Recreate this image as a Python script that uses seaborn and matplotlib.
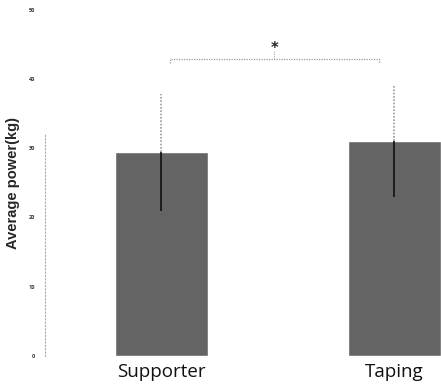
import pandas as pd
import seaborn as sns
import matplotlib.pyplot as plt

# values
groups = ["Supporter", "Taping"]
means = [29.4, 31.0]
sds = [8.4, 8.0]
yticks = [0, 10, 20, 30, 40, 50]

df = pd.DataFrame({"group": groups, "power": means})

sns.set_style("white")
plt.rcParams['font.family'] = ['Open Sans', 'DejaVu Sans']

fig = plt.figure(figsize=(4.41, 3.92), dpi=100)
ax = fig.add_axes([0.102, 0.092, 0.898, 0.883])

sns.barplot(data=df, x="group", y="power", color="#646464", saturation=1,
            width=0.4, ax=ax, errorbar=None)

# error bars: dotted gray above the bar, black inside it
xs = list(range(len(groups)))
ax.vlines(xs, means, [m + s for m, s in zip(means, sds)],
          colors="#9a9a9a", linestyles=(0, (1, 1)), linewidth=1.2)
ax.vlines(xs, [m - s for m, s in zip(means, sds)], means,
          colors="#111111", linewidth=1.2)

# significance bracket
ax.plot([0.035, 0.035, 0.933, 0.933], [42.3, 42.9, 42.9, 42.3],
        color="#9a9a9a", linestyle=(0, (1, 1)), linewidth=0.9)
ax.vlines(0.484, 42.9, 44.0, colors="#aaaaaa", linestyles=(0, (1, 1)),
          linewidth=0.8)
ax.text(0.484, 43.7, "*", ha="center", va="baseline", fontsize=10.5,
        fontweight="bold", color="#222222", family="DejaVu Sans")

ax.set_xlim(-0.5, 1.2)
ax.set_ylim(0, 50)
ax.set_yticks(yticks)
ax.set_yticklabels([str(t) for t in yticks], fontsize=4, fontweight="bold",
                   color="#333333")
ax.tick_params(axis="y", length=2, width=0.6, color="#999999", pad=5)
ax.tick_params(axis="x", length=0, labelsize=13.5, pad=5, labelcolor="#111111")

ax.set_xlabel("")
ax.set_ylabel("Average power(kg)", fontsize=10.5, fontweight="bold",
              family=["Liberation Sans", "DejaVu Sans"], labelpad=6)

for side in ["top", "right", "bottom"]:
    ax.spines[side].set_visible(False)
ax.spines["left"].set_color("#aaaaaa")
ax.spines["left"].set_linestyle((0, (1, 2)))
ax.spines["left"].set_linewidth(0.8)
ax.spines["left"].set_bounds(0, 32)

fig.savefig("out.png", dpi=100)
